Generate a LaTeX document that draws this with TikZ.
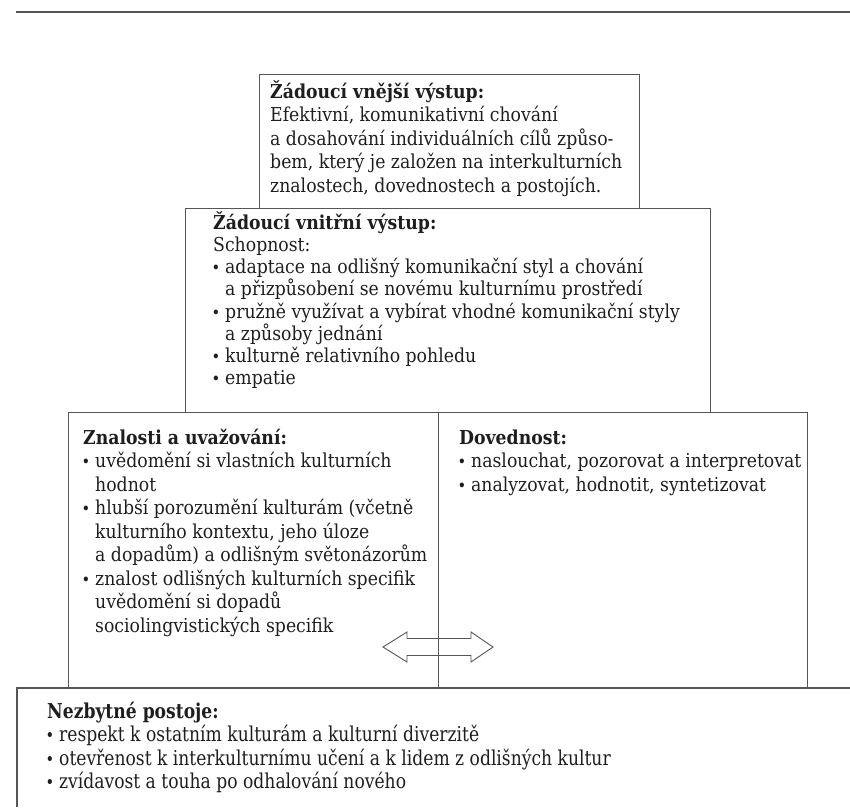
\documentclass[tikz,border=0pt]{standalone}
\usepackage{fontspec}
\usepackage{graphicx}
\setmainfont{DejaVu Serif Condensed}
\newfontfamily\narrowserif[FakeStretch=0.93]{DejaVu Serif Condensed}
\definecolor{ink}{HTML}{1E1E1E}
\definecolor{frame}{HTML}{555555}
\newcommand{\fl}{\rule{0pt}{20pt}}
\newcommand{\bl}{\makebox[12pt][l]{\hspace*{-1.5pt}\scalebox{0.85}{\textbullet}}}
\newcommand{\ind}{\hspace*{12pt}}
\tikzset{
  boxframe/.style={draw=frame, line width=1.1pt, anchor=north west, inner sep=0pt},
  txt/.style={anchor=north west, inner sep=0pt, align=left, text=ink,
    font=\fontsize{19.2}{23.5}\selectfont},
  txtnarrow/.style={txt, font=\narrowserif\fontsize{20.5}{23.5}\selectfont},
}
\begin{document}
\begin{tikzpicture}[x=1pt,y=-1pt]
\useasboundingbox (0,0) rectangle (850,807);
% top rule
\coordinate (rl) at (16,12);
\coordinate (rr) at (850,12);
\draw[frame, line width=1.5pt] (rl) -- (rr);
% boxes
\node[boxframe, minimum width=525, minimum height=204] (b2) at (185,208) {};
\node[boxframe, minimum width=380, minimum height=134] (b1) at (259,74) {};
\node[boxframe, minimum width=739, minimum height=276] (b3) at (68,412) {};
\draw[frame, line width=1.1pt] (b3.north) -- (b3.south);
\coordinate (b4a) at (17,807);
\coordinate (b4b) at (17,688);
\coordinate (b4c) at (850,688);
\draw[frame, line width=1.1pt] (b4a) -- (b4b) -- (b4c);
% double arrow
\coordinate (arr) at (438,647);
\draw[frame, line width=0.9pt, shift={(arr)}]
  (-55,0) -- (-31,-15) -- (-31,-8.5) -- (33,-8.5) -- (33,-15) -- (55,0)
  -- (33,15) -- (33,8.5) -- (-31,8.5) -- (-31,15) -- cycle;
% texts
\node[txt] (t1) at (270,78) {\fl\textbf{Žádoucí vnější výstup:}\\
Efektivní, komunikativní chování\\
a dosahování individuálních cílů způso-\\
bem, který je založen na interkulturních\\
znalostech, dovednostech a postojích.};
\node[txt, font=\fontsize{19.2}{22.2}\selectfont] (t2) at (213,209) {\fl\textbf{Žádoucí vnitřní výstup:}\\
Schopnost:\\
\bl adaptace na odlišný komunikační styl a chování\\
\ind a přizpůsobení se novému kulturnímu prostředí\\
\bl pružně využívat a vybírat vhodné komunikační styly\\
\ind a způsoby jednání\\
\bl kulturně relativního pohledu\\
\bl empatie};
\node[txt] (t3) at (83,424) {\fl\textbf{Znalosti a uvažování:}\\
\bl uvědomění si vlastních kulturních\\
\ind hodnot\\
\bl hlubší porozumění kulturám (včetně\\
\ind kulturního kontextu, jeho úloze\\
\ind a dopadům) a odlišným světonázorům\\
\bl znalost odlišných kulturních specifik\\
\ind uvědomění si dopadů\\
\ind sociolingvistických specifik};
\node[txt] (t4) at (459,424) {\fl\textbf{Dovednost:}\\
\bl naslouchat, pozorovat a interpretovat\\
\bl analyzovat, hodnotit, syntetizovat};
\node[txtnarrow] (t5) at (47,698) {\fl\textbf{Nezbytné postoje:}\\
\bl respekt k ostatním kulturám a kulturní diverzitě\\
\bl otevřenost k interkulturnímu učení a k lidem z odlišných kultur\\
\bl zvídavost a touha po odhalování nového};
\end{tikzpicture}
\end{document}
